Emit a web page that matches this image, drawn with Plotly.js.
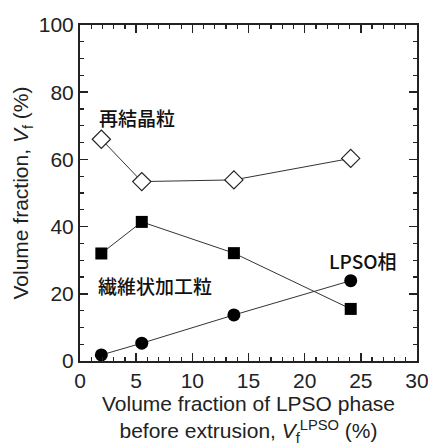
<!DOCTYPE html>
<html><head><meta charset="utf-8">
<script src="https://cdn.plot.ly/plotly-3.0.1.min.js"></script>
<style>html,body{margin:0;padding:0;background:#fff}#chart{width:428px;height:448px}</style>
</head><body><div id="chart"></div>
<script>
const xLPSO = [1.9, 5.5, 13.7, 24.1];
const recrystallized = [66.0, 53.4, 53.9, 60.3];
const fibrousWorked = [32.0, 41.4, 32.1, 15.5];
const lpsoPhase = [1.8, 5.3, 13.7, 23.9];
const xTickStep = 5;
const yTickStep = 20;

const lineStyle = {color: '#333', width: 1};
const traces = [
  {x: xLPSO, y: recrystallized, mode: 'lines+markers', name: '再結晶粒', line: lineStyle,
   marker: {symbol: 'diamond', size: 14, color: '#fff', line: {color: '#222', width: 1.2}}},
  {x: xLPSO, y: fibrousWorked, mode: 'lines+markers', name: '繊維状加工粒', line: lineStyle,
   marker: {symbol: 'square', size: 12, color: '#000', line: {color: '#000', width: 0}}},
  {x: xLPSO, y: lpsoPhase, mode: 'lines+markers', name: 'LPSO相', line: lineStyle,
   marker: {symbol: 'circle', size: 13, color: '#000', line: {color: '#000', width: 0}}}
];

const cjk = '"Noto Sans CJK JP", "Liberation Sans", Arial, sans-serif';
const axisCommon = {
  showline: true, linecolor: '#222', linewidth: 2, mirror: 'ticks',
  ticks: 'inside', ticklen: 8, tickwidth: 1.5, tickcolor: '#222',
  showgrid: false, zeroline: false, tickmode: 'linear', tick0: 0,
  ticklabeloverflow: 'allow',
  tickfont: {family: '"Liberation Sans", Arial, sans-serif', size: 21, color: '#222'}
};

const layout = {
  width: 428, height: 448,
  margin: {l: 80, r: 11, t: 25, b: 87},
  paper_bgcolor: '#fff', plot_bgcolor: '#fff',
  showlegend: false,
  font: {family: '"Liberation Sans", Arial, sans-serif', color: '#222'},
  xaxis: Object.assign({}, axisCommon, {
    range: [0, 30], dtick: xTickStep,
    minor: {dtick: 1, tick0: 0, ticks: 'inside', ticklen: 4, tickwidth: 1.2, tickcolor: '#222'},
    title: {text: 'Volume fraction of LPSO phase<br>before extrusion, <i>V</i><sub>f</sub><sup>LPSO</sup> (%)',
            font: {size: 21, color: '#222'}, standoff: 4}
  }),
  yaxis: Object.assign({}, axisCommon, {
    range: [0, 100], dtick: yTickStep,
    minor: {dtick: 5, tick0: 0, ticks: 'inside', ticklen: 4, tickwidth: 1.2, tickcolor: '#222'},
    title: {text: 'Volume fraction, <i>V</i><sub>f</sub> (%)', font: {size: 21, color: '#222'}, standoff: 4}
  }),
  annotations: [
    {x: 1.5, y: 72.5, xref: 'x', yref: 'y', text: '再結晶粒', showarrow: false, xanchor: 'left', yanchor: 'middle',
     font: {family: cjk, size: 19, color: '#111', weight: 500}},
    {x: 1.4, y: 22.5, xref: 'x', yref: 'y', text: '繊維状加工粒', showarrow: false, xanchor: 'left', yanchor: 'middle',
     font: {family: cjk, size: 19, color: '#111', weight: 500}},
    {x: 22.0, y: 29.8, xref: 'x', yref: 'y', text: 'LPSO相', showarrow: false, xanchor: 'left', yanchor: 'middle',
     font: {family: cjk, size: 19, color: '#111', weight: 500}}
  ]
};

Plotly.newPlot('chart', traces, layout, {displayModeBar: false, staticPlot: true});
</script></body></html>
